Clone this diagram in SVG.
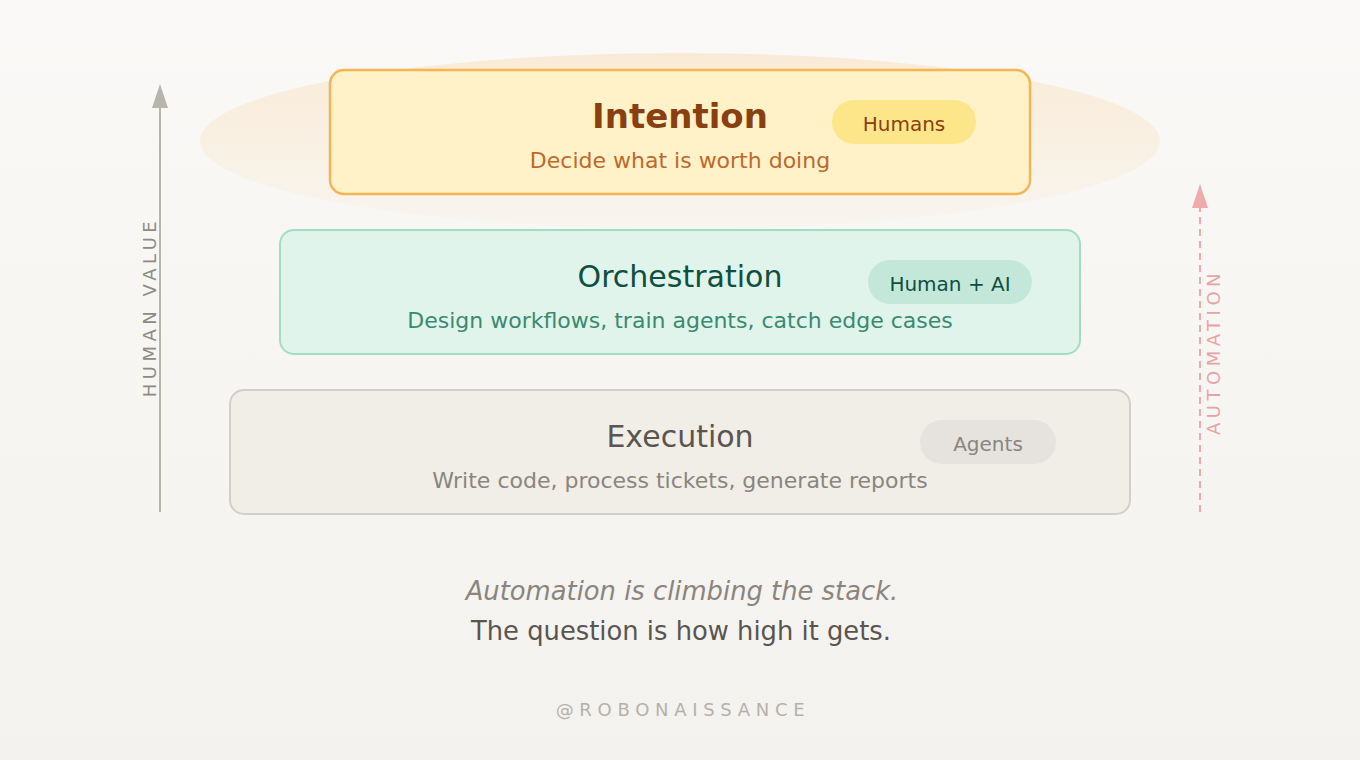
<svg xmlns="http://www.w3.org/2000/svg" width="1360" height="760" viewBox="0 0 1360 760">
<defs>
<linearGradient id="bg" x1="0" y1="0" x2="0" y2="1">
<stop offset="0" stop-color="#faf9f7"/>
<stop offset="1" stop-color="#f4f2ee"/>
</linearGradient>
<linearGradient id="glow" x1="0" y1="0" x2="0" y2="1">
<stop offset="0" stop-color="#f9e6cc" stop-opacity="0.75"/>
<stop offset="1" stop-color="#f9e6cc" stop-opacity="0.12"/>
</linearGradient>
</defs>
<style>
text{font-family:"DejaVu Sans","Noto Sans",sans-serif}
.title{font-size:30px;text-anchor:middle}
.sub{font-size:22px;text-anchor:middle}
.pill{font-size:20px;text-anchor:middle}
.axis{font-size:18px;letter-spacing:4.5px;text-anchor:middle}
</style>
<rect width="1360" height="760" fill="url(#bg)"/>
<ellipse cx="680" cy="141" rx="480" ry="88" fill="url(#glow)"/>

<g id="connectors">
<line x1="160" y1="512" x2="160" y2="104" stroke="#b8b5ad" stroke-width="2"/>
<polygon points="160,84 152,108 168,108" fill="#b8b5ad"/>
<line x1="1200" y1="512" x2="1200" y2="206" stroke="#eeaaac" stroke-width="2" stroke-dasharray="7 5"/>
<polygon points="1200,184 1192,208 1208,208" fill="#eeaaac"/>
</g>

<g id="label-human-value">
<text class="axis" fill="#8f8b84" transform="translate(156,307) rotate(-90)">HUMAN VALUE</text>
</g>
<g id="label-automation">
<text class="axis" fill="#e8a3a6" transform="translate(1220,352) rotate(-90)">AUTOMATION</text>
</g>

<g id="node-intention">
<rect x="330" y="70" width="700" height="124" rx="14" fill="#fff1c8" stroke="#f4b554" stroke-width="2.5"/>
<text x="680" y="128" class="title" font-weight="bold" fill="#8a3f10" style="font-size:34px">Intention</text>
<text x="680" y="168" class="sub" fill="#c0692b">Decide what is worth doing</text>
<rect x="832" y="100" width="144" height="44" rx="22" fill="#fde68a"/>
<text x="904" y="131" class="pill" fill="#8a3f10">Humans</text>
</g>

<g id="node-orchestration">
<rect x="280" y="230" width="800" height="124" rx="14" fill="#e0f4ec" stroke="#a3dcc5" stroke-width="2"/>
<text x="680" y="287" class="title" fill="#0e4f3f">Orchestration</text>
<text x="680" y="328" class="sub" fill="#3a8a6e">Design workflows, train agents, catch edge cases</text>
<rect x="868" y="260" width="164" height="44" rx="22" fill="#c3e8da"/>
<text x="950" y="291" class="pill" fill="#0e4f3f">Human + AI</text>
</g>

<g id="node-execution">
<rect x="230" y="390" width="900" height="124" rx="14" fill="#f1eee8" stroke="#d3cfc8" stroke-width="2"/>
<text x="680" y="447" class="title" fill="#5a5550">Execution</text>
<text x="680" y="488" class="sub" fill="#8a857e">Write code, process tickets, generate reports</text>
<rect x="920" y="420" width="136" height="44" rx="22" fill="#e6e3de"/>
<text x="988" y="451" class="pill" fill="#8a857e">Agents</text>
</g>

<g id="caption">
<text x="682" y="600" font-size="25.8" font-style="italic" text-anchor="middle" fill="#8a857e">Automation is climbing the stack.</text>
<text x="681" y="640" font-size="25.8" text-anchor="middle" fill="#5a5550">The question is how high it gets.</text>
<text x="683" y="716" font-size="18" letter-spacing="5.7" text-anchor="middle" fill="#b5b1aa">@ROBONAISSANCE</text>
</g>
</svg>
